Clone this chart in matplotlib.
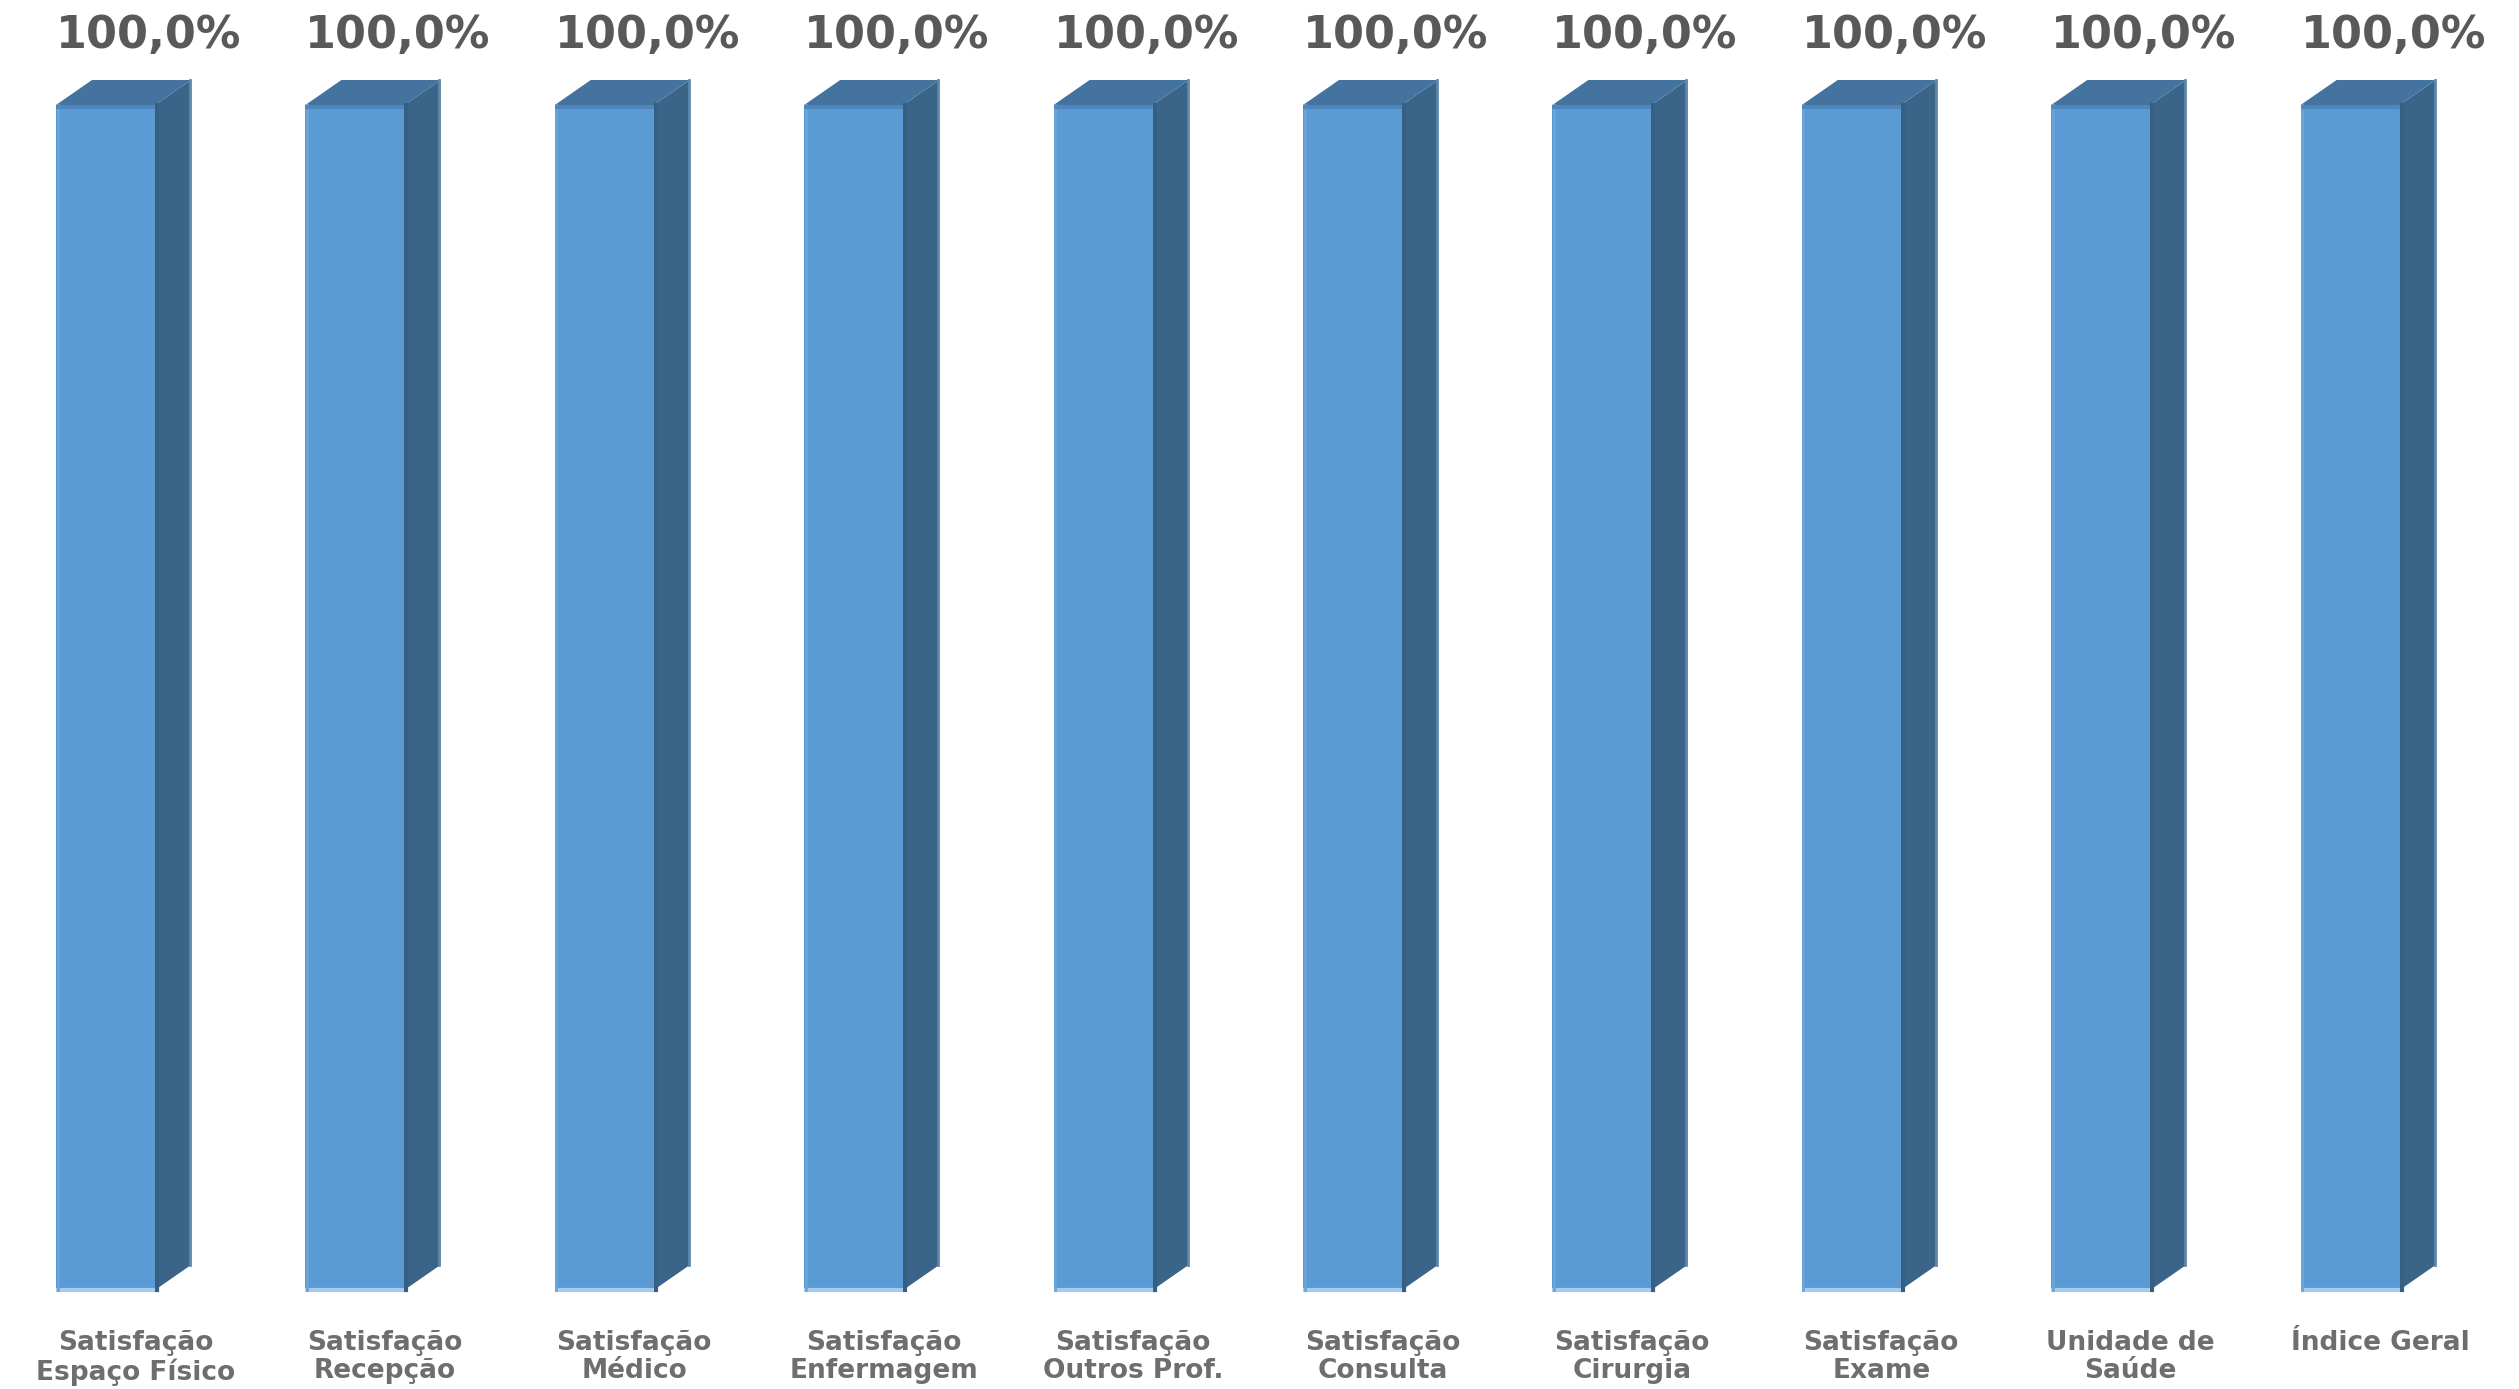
import matplotlib
matplotlib.use("Agg")
import matplotlib.pyplot as plt
from matplotlib.patches import Polygon

# ── data ────────────────────────────────────────────────
categories = [
    "Satisfação\nEspaço Físico",
    "Satisfação\nRecepção",
    "Satisfação\nMédico",
    "Satisfação\nEnfermagem",
    "Satisfação\nOutros Prof.",
    "Satisfação\nConsulta",
    "Satisfação\nCirurgia",
    "Satisfação\nExame",
    "Unidade de\nSaúde",
    "Índice Geral",
]
values = [100.0, 100.0, 100.0, 100.0, 100.0, 100.0, 100.0, 100.0, 100.0, 100.0]
value_labels = ["100,0%"] * len(values)

# ── style ───────────────────────────────────────────────
FRONT = "#5B9BD5"
SIDE = "#3A6488"
TOP = "#44739F"
BASE = "#A9CBEA"
VAL_COLOR = "#595959"
CAT_COLOR = "#6E6E6E"
W_PX, H_PX, DPI = 2519, 1389, 100

fig = plt.figure(figsize=(W_PX / DPI, H_PX / DPI), dpi=DPI)
fig.patch.set_facecolor("white")

# axes spans the full width; baseline at 99px from bottom, 100% at 1284px
ax_bottom = 99 / H_PX
ax_height = (1284 - 99) / H_PX
ax = fig.add_axes([0, ax_bottom, 1, ax_height])

unit_px = 249.4                       # px between bar centres
x_left = -105.5 / unit_px
ax.set_xlim(x_left, x_left + W_PX / unit_px)
ax.set_ylim(0, 100)
ax.axis("off")

px_y = 100 / (1284 - 99)              # data units per pixel (y)
depth_x = 36 / unit_px
depth_y = 25 * px_y
bar_w = 99 / unit_px

xs = list(range(len(values)))
bars = ax.bar(xs, values, width=bar_w, color=FRONT, zorder=3, linewidth=0)

for rect, lab in zip(bars, value_labels):
    x0 = rect.get_x()
    x1 = x0 + rect.get_width()
    h = rect.get_height()
    # right side face
    side = Polygon([(x1, 0), (x1 + depth_x, depth_y), (x1 + depth_x, h + depth_y), (x1, h)],
                   closed=True, facecolor=SIDE, edgecolor="none", zorder=2, clip_on=False)
    ax.add_patch(side)
    # top face
    top = Polygon([(x0, h), (x0 + depth_x, h + depth_y), (x1 + depth_x, h + depth_y), (x1, h)],
                  closed=True, facecolor=TOP, edgecolor="none", zorder=2, clip_on=False)
    ax.add_patch(top)
    # light strip along the bottom and left edge, darker seam at the top
    ax.plot([x0, x1], [0, 0], color=BASE, lw=3, solid_capstyle="butt", zorder=4, clip_on=False)
    ax.plot([x0 + 1.5 / unit_px] * 2, [0, h], color="#6AA5DA", lw=2, zorder=4, clip_on=False)
    ax.plot([x0, x1], [h - 2 * px_y] * 2, color="#4F86BC", lw=3, solid_capstyle="butt",
            zorder=4, clip_on=False)
    ax.plot([x1 + 2 / unit_px] * 2, [0, h], color="#375F82", lw=3, zorder=2.5, clip_on=False)
    ax.plot([x1 + depth_x - 1 / unit_px] * 2, [depth_y, h + depth_y], color="#5F87AA", lw=2,
            zorder=2.5, clip_on=False)
    # value label
    ax.text(x0, h + 57 * px_y, lab, ha="left", va="baseline",
            fontsize=32, fontweight="bold", color=VAL_COLOR, family="DejaVu Sans",
            clip_on=False)

for x, cat in zip(xs, categories):
    ax.text(x + 30 / unit_px, -40 * px_y, cat, ha="center", va="top",
            fontsize=19, fontweight="bold", color=CAT_COLOR, family="DejaVu Sans",
            linespacing=1.1, clip_on=False)

fig.savefig("out.png", dpi=DPI, facecolor="white")
